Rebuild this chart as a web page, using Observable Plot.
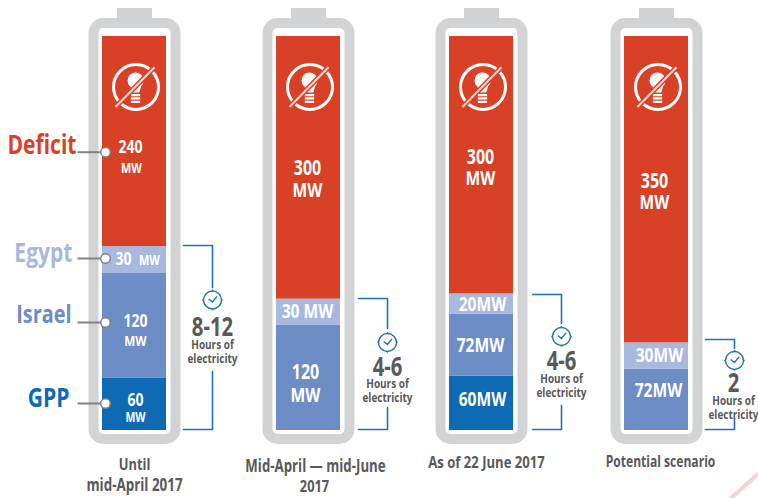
<!DOCTYPE html>
<html>
<head>
<meta charset="utf-8">
<script src="https://cdn.jsdelivr.net/npm/d3@7"></script>
<script src="https://cdn.jsdelivr.net/npm/@observablehq/plot@0.6"></script>
<style>html,body{margin:0;padding:0;background:#fff}svg{display:block}</style>
</head>
<body>
<div id="chart"></div>
<script>
// ---------- data ----------
const periods = [["Until","mid-April 2017"],["Mid-April — mid-June","2017"],["As of 22 June 2017"],["Potential scenario"]];
const sources = ["GPP","Israel","Egypt","Deficit"];
const gpp     = [60, 0, 62, 0];
const israel  = [120, 120, 71, 70];
const egypt   = [30, 30, 23, 30];
const deficit = [240, 300, 294, 350];
const hours   = ["8-12","4-6","4-6","2"];
const hoursNote = "Hours of\nelectricity";
const seriesColors = ["#0f6ab4","#6c8dc6","#a8b8de","#d94126"];

// ---------- layout ----------
const W = 758, H = 498;
const pxPerUnit = 174, x0 = 134.25;
const pxPerMW = 0.8756, y0 = 430;
const X = p => (p - x0) / pxPerUnit;   // layout px -> battery units
const Y = p => (y0 - p) / pxPerMW;     // layout px -> MW
const centers = [134, 308, 481, 656].map(X);
const halfBar = 32 / pxPerUnit;
const font = "'Open Sans','Noto Sans',sans-serif";
const condense = 0.78;
const grey = "#58595b", blue = "#1f71b8", red = "#d94126";

const rows = [];
centers.forEach((c, i) => {
  let base = 0;
  [gpp, israel, egypt, deficit].forEach((s, k) => {
    if (s[i] > 0) rows.push({c, source: sources[k], y1: base, y2: base + s[i], fill: seriesColors[k]});
    base += s[i];
  });
});

// symbols
const bulb = {draw(c, size) {
  const r = Math.sqrt(size / Math.PI);     // head radius
  c.moveTo(-r * 0.62, r * 0.72);
  c.arc(0, 0, r, Math.PI * 0.75, Math.PI * 0.25);
  c.lineTo(r * 0.47, r * 1.5);
  c.lineTo(-r * 0.47, r * 1.5);
  c.closePath();
  [1.68, 2.1, 2.52].forEach(t => {
    c.moveTo(-r * 0.58, r * t); c.lineTo(r * 0.58, r * t); c.lineTo(r * 0.58, r * (t + 0.28)); c.lineTo(-r * 0.58, r * (t + 0.28)); c.closePath();
  });
}};
const clock = {draw(c, size) {
  const r = Math.sqrt(size / Math.PI);
  c.moveTo(r, 0); c.arc(0, 0, r, 0, Math.PI * 2);
  c.moveTo(0, -r); c.lineTo(0, -r - 1.5);
  c.moveTo(0, r); c.lineTo(0, r + 1.2);
  c.moveTo(r, 0); c.lineTo(r + 1.2, 0);
  c.moveTo(-r, 0); c.lineTo(-r - 1.2, 0);
  c.moveTo(-r * 0.42, -r * 0.12); c.lineTo(0, r * 0.22); c.lineTo(r * 0.5, -r * 0.4);
}};

// text rows
const T = (px, py, text, size, fill = "#fff", anchor = "middle") => ({x: X(px), y: Y(py), text, size, fill, anchor});
const valueLabels = [
  T(130,147,"240",18), T(131,168,"MW",14),
  T(123,259,"30",18), T(149,260,"MW",14),
  T(135,321,"120",18), T(135,341,"MW",15),
  T(135,400,"60",18), T(135,417,"MW",13.5),
  T(307,168,"300",20.5), T(307,190,"MW",20),
  T(307,311,"30 MW",20),
  T(305,372,"120",20.5), T(305,395,"MW",20),
  T(480,157,"300",20.5), T(480,178,"MW",20),
  T(482,304,"20MW",20), T(480,345,"72MW",20), T(482,399,"60MW",20),
  T(654,181,"350",20.5), T(654,202,"MW",20),
  T(659,355,"30MW",20), T(658,390,"72MW",20)
];
const sideLabels = [
  T(76,145,"Deficit",27,seriesColors[3],"end"),
  T(72,253,"Egypt",27,seriesColors[2],"end"),
  T(71,314,"Israel",25.5,seriesColors[1],"end"),
  T(69,398,"GPP",27,seriesColors[0],"end")
];
const periodLabels = [
  T(134,464,periods[0][0],16.5,grey), T(134,485,periods[0][1],17.2,grey),
  T(315,466,periods[1][0],17,grey), T(314,486,periods[1][1],16.5,grey),
  T(486,462,periods[2][0],16.8,grey), T(660,462,periods[3][0],15.5,grey)
];
const hourPos = [
  {x:212,tx:212,big:327,note:351,clock:299.5,top:245,t2:287,b2:371,x1:183},
  {x:387,tx:387,big:367,note:390,clock:342,top:298,t2:328,b2:407,x1:358},
  {x:561,tx:561,big:361,note:385,clock:336,top:294,t2:323,b2:405,x1:532},
  {x:734,tx:733,big:383,note:407,clock:360,top:339,t2:348,b2:418,x1:705}
];
const hourLabels = hourPos.map((p,i) => T(p.tx,p.big,hours[i],26,grey));
const noteLabels = hourPos.map(p => T(p.tx,p.note,hoursNote,12.8,grey));
const brackets = hourPos.flatMap((p,i) => [
  [[p.x1,p.top],[p.x,p.top],[p.x,p.t2]],
  [[p.x1,429],[p.x,429],[p.x,p.b2]]
].map((seg,k) => seg.map(([a,b]) => ({x:X(a),y:Y(b),z:i+"-"+k}))).flat());
const leaders = [151.7,258,322,403].map(py => ({y:Y(py), x1:X(77), x2:X(105)}));
const icons = centers.map(c => ({c, x:c + X(135.5) - X(134), y:Y(86.5)}));
const bulbs = centers.map(c => ({x:c + X(135) - X(134), y:Y(80)}));
const slashes = centers.map(c => ({x1:c + X(115) - X(134), x2:c + X(154) - X(134), y1:Y(106.5), y2:Y(66.7)}));

const allText = (d, o = {}) => Plot.text(d, {x:"x", y:"y", text:"text", fontSize:"size", fill:"fill", fontFamily:font, fontWeight:700, textAnchor:d[0].anchor, ...o});

const chart = Plot.plot({
  width: W, height: H,
  marginTop:0, marginRight:0, marginBottom:0, marginLeft:0,
  x: {type:"linear", domain:[X(0), X(W)], range:[0, W], axis:null},
  y: {type:"linear", domain:[Y(H), Y(0)], range:[H, 0], axis:null},
  r: {type:"identity"},
  color: {type:"identity"},
  style: {background:"#fff"},
  marks: [
    // faint diagonal stripe bottom right
    Plot.link([{x1:X(730),y1:Y(498),x2:X(758),y2:Y(473)}], {x1:"x1",y1:"y1",x2:"x2",y2:"y2",stroke:"#f6d3cf",strokeWidth:4}),
    // battery cap and shell
    Plot.rect(centers, {x1:c=>c+X(17.5)-X(0)+0.5/pxPerUnit, x2:c=>c-X(17.5)+X(0)+0.5/pxPerUnit, y1:Y(18), y2:Y(8), fill:"#d1d3d4"}),
    Plot.rect(centers, {x1:c=>c-41/pxPerUnit+0.5/pxPerUnit, x2:c=>c+41/pxPerUnit+0.5/pxPerUnit, y1:Y(439), y2:Y(23), fill:"#fff", stroke:"#d1d3d4", strokeWidth:10, rx:10}),
    // bars
    Plot.rect(rows, {x1:d=>d.c-halfBar, x2:d=>d.c+halfBar, y1:"y1", y2:"y2", fill:"fill"}),
    // no-electricity icon
    Plot.dot(icons, {x:"x", y:"y", r:22.5, stroke:"#fff", strokeWidth:3, fill:"none"}),
    Plot.dot(bulbs, {x:"x", y:"y", r:8, symbol:bulb, fill:"#fff", stroke:"none"}),
    Plot.link(slashes, {x1:"x1",x2:"x2",y1:"y1",y2:"y2", stroke:red, strokeWidth:5}),
    Plot.link(slashes, {x1:"x1",x2:"x2",y1:"y1",y2:"y2", stroke:"#f6d5cf", strokeWidth:2}),
    // leaders
    Plot.link(leaders, {x1:"x1",x2:"x2",y1:"y",y2:"y", stroke:"#808285", strokeWidth:2}),
    Plot.dot(leaders, {x:"x2", y:"y", r:4.8, fill:"#fff", stroke:"#808285", strokeWidth:1.5}),
    // brackets and clocks
    Plot.line(brackets, {x:"x", y:"y", z:"z", stroke:blue, strokeWidth:1.6, curve:"linear"}),
    Plot.dot(hourPos, {x:d=>X(d.x), y:d=>Y(d.clock), r:9, symbol:clock, fill:"none", stroke:blue, strokeWidth:1.4}),
    // text
    allText(valueLabels),
    allText(sideLabels),
    allText(periodLabels),
    allText(hourLabels),
    allText(noteLabels, {lineHeight:1.09})
  ]
});
// The reference type is a condensed face: narrow each text horizontally about its anchor.
chart.querySelectorAll("text").forEach(t => {
  const tr = t.getAttribute("transform") || "";
  t.setAttribute("transform", tr + " scale(" + condense + ",1)");
});
document.getElementById("chart").appendChild(chart);
</script>
</body>
</html>
